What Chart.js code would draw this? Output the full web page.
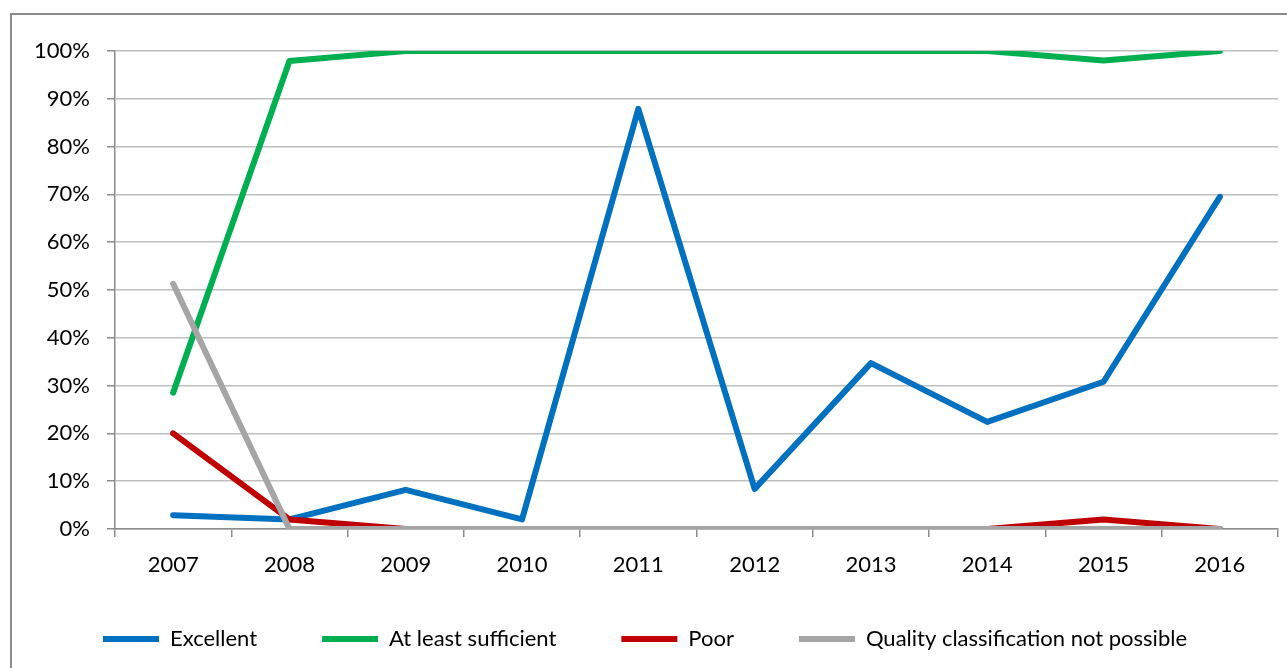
<!DOCTYPE html>
<html>
<head>
<script src="https://cdn.jsdelivr.net/npm/chart.js@4.4.0/dist/chart.umd.min.js"></script>
<style>
  html, body { margin: 0; padding: 0; background: #fff; overflow: hidden; }
  #outer {
    position: absolute;
    left: 10px;
    top: 13px;
    width: 1290px;
    height: 670px;
    border: 2px solid #8c8c8c;
  }
</style>
</head>
<body>
<div id="outer">
  <canvas id="myChart" width="1275" height="653"></canvas>
</div>
<script>
// values, in percent
var years = ["2007","2008","2009","2010","2011","2012","2013","2014","2015","2016"]
var excellent = [2.9, 2.0, 8.2, 2.0, 87.9, 8.4, 34.7, 22.4, 30.8, 69.5]
var sufficient = [28.5, 97.9, 100, 100, 100, 100, 100, 100, 98.0, 100]
var poor = [20.0, 2.0, 0, 0, 0, 0, 0, 0, 2.0, 0]
var notPossible = [51.3, 0, 0, 0, 0, 0, 0, 0, 0, 0]

var FONT = "Lato, 'Liberation Sans', sans-serif"

// x labels sit below the (short) x box, in the legend's padding, so don't clip them
Chart.CategoryScale.prototype._computeLabelArea = function(){ return undefined }

// order: later series drawn on top, like the original
function series(label, values, color, order){
  return {
    label: label,
    data: values,
    order: order,
    borderColor: color,
    backgroundColor: color,
    borderWidth: 6,
    borderCapStyle: 'round',
    borderJoinStyle: 'round',
    pointRadius: 0,
    tension: 0,
    fill: false
  }
}

var ctx = document.getElementById("myChart").getContext('2d')
var myChart = new Chart(ctx, {
  type: 'line',
  data: {
    labels: years,
    datasets: [
      series("Excellent", excellent, "#0070C0", 4),
      series("At least sufficient", sufficient, "#00B050", 3),
      series("Poor", poor, "#C00000", 2),
      series("Quality classification not possible", notPossible, "#A5A5A5", 1)
    ]
  },
  options: {
    responsive: false,
    animation: false,
    layout: { padding: { top: 36, right: 9, left: 0, bottom: 8 } },
    plugins: {
      tooltip: { enabled: false },
      legend: {
        position: 'bottom',
        labels: {
          usePointStyle: true,
          pointStyle: 'line',
          pointStyleWidth: 56,
          boxHeight: 6,
          padding: 65,
          color: '#000',
          font: { family: FONT, size: 22 },
          sort: function(a, b){ return a.datasetIndex - b.datasetIndex }
        }
      }
    },
    scales: {
      x: {
        offset: true,
        grid: {
          offset: true,
          drawOnChartArea: false,
          drawTicks: true,
          tickLength: 8,
          color: '#8c8c8c',
          lineWidth: 1.5
        },
        border: { color: '#8c8c8c', width: 1.5 },
        ticks: {
          color: '#000',
          padding: 15,
          font: { family: FONT, size: 22 },
          maxRotation: 0
        },
        afterFit: function(scale){ scale.height = 34 }
      },
      y: {
        min: 0,
        max: 100,
        grid: {
          color: '#c0c0c0',
          lineWidth: 1.5,
          tickLength: 8,
          tickColor: '#8c8c8c'
        },
        border: { color: '#8c8c8c', width: 1.5 },
        ticks: {
          stepSize: 10,
          color: '#000',
          padding: 17,
          font: { family: FONT, size: 22 },
          callback: function(v){ return v + '%' }
        },
        afterFit: function(scale){ scale.width = 103 }
      }
    }
  }
})
</script>
</body>
</html>
